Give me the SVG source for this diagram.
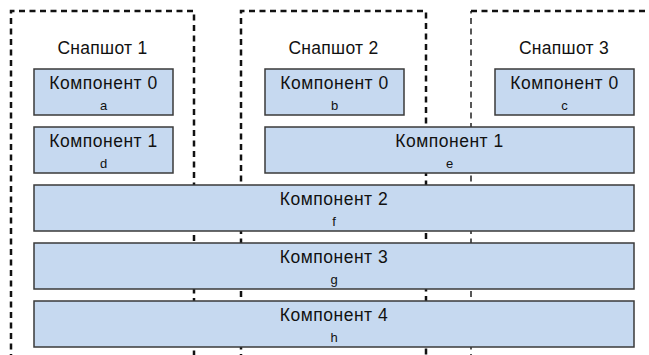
<svg xmlns="http://www.w3.org/2000/svg" width="649" height="355" viewBox="0 0 649 355">
  <style>
    .frame { fill: none; stroke: #111; stroke-width: 2.5; stroke-dasharray: 6 4.5; }
    .frame-thin { stroke-width: 1.4; }
    .title { font-family: "Liberation Sans", Arial, sans-serif; font-size: 17.5px; letter-spacing: 0.3px; fill: #111; text-anchor: middle; }
    .box { fill: #c6d9f0; stroke: #3a3a3a; stroke-width: 1.5; }
    .name { font-family: "Liberation Sans", Arial, sans-serif; font-size: 17.5px; letter-spacing: 0.5px; fill: #111; text-anchor: middle; }
    .key { font-family: "Liberation Sans", Arial, sans-serif; font-size: 13px; fill: #111; text-anchor: middle; }
  </style>
  <rect width="649" height="355" fill="#ffffff"/>

  <!-- snapshot frames, open at the bottom -->
  <g id="snapshot-1">
    <path class="frame" d="M11,360 V11 H194 V360"/>
    <text class="title" x="102.5" y="54">Снапшот 1</text>
  </g>
  <g id="snapshot-2">
    <path class="frame" d="M241,360 V11 H426 V360"/>
    <text class="title" x="333.5" y="54">Снапшот 2</text>
  </g>
  <g id="snapshot-3">
    <path class="frame" d="M471,11 H660"/>
    <path class="frame frame-thin" d="M471,360 V11"/>
    <text class="title" x="564" y="54">Снапшот 3</text>
  </g>

  <!-- component 0 -->
  <g id="comp0-a">
    <rect class="box" x="34" y="69" width="139" height="46"/>
    <text class="name" x="103.5" y="89">Компонент 0</text>
    <text class="key" x="103.5" y="109.5">a</text>
  </g>
  <g id="comp0-b">
    <rect class="box" x="265" y="69" width="139" height="46"/>
    <text class="name" x="334.5" y="89">Компонент 0</text>
    <text class="key" x="334.5" y="109.5">b</text>
  </g>
  <g id="comp0-c">
    <rect class="box" x="495" y="69" width="139" height="46"/>
    <text class="name" x="564.5" y="89">Компонент 0</text>
    <text class="key" x="564.5" y="109.5">c</text>
  </g>

  <!-- component 1 -->
  <g id="comp1-d">
    <rect class="box" x="34" y="127" width="139" height="46"/>
    <text class="name" x="103.5" y="147">Компонент 1</text>
    <text class="key" x="103.5" y="167.5">d</text>
  </g>
  <g id="comp1-e">
    <rect class="box" x="265" y="127" width="369" height="46"/>
    <text class="name" x="449.5" y="147">Компонент 1</text>
    <text class="key" x="449.5" y="167.5">e</text>
  </g>

  <!-- components shared by all snapshots -->
  <g id="comp2-f">
    <rect class="box" x="34" y="185" width="600" height="46"/>
    <text class="name" x="334" y="205">Компонент 2</text>
    <text class="key" x="334" y="225.5">f</text>
  </g>
  <g id="comp3-g">
    <rect class="box" x="34" y="243" width="600" height="46"/>
    <text class="name" x="334" y="263">Компонент 3</text>
    <text class="key" x="334" y="283.5">g</text>
  </g>
  <g id="comp4-h">
    <rect class="box" x="34" y="301" width="600" height="46"/>
    <text class="name" x="334" y="321">Компонент 4</text>
    <text class="key" x="334" y="341.5">h</text>
  </g>

  <g id="connectors"/>
</svg>
